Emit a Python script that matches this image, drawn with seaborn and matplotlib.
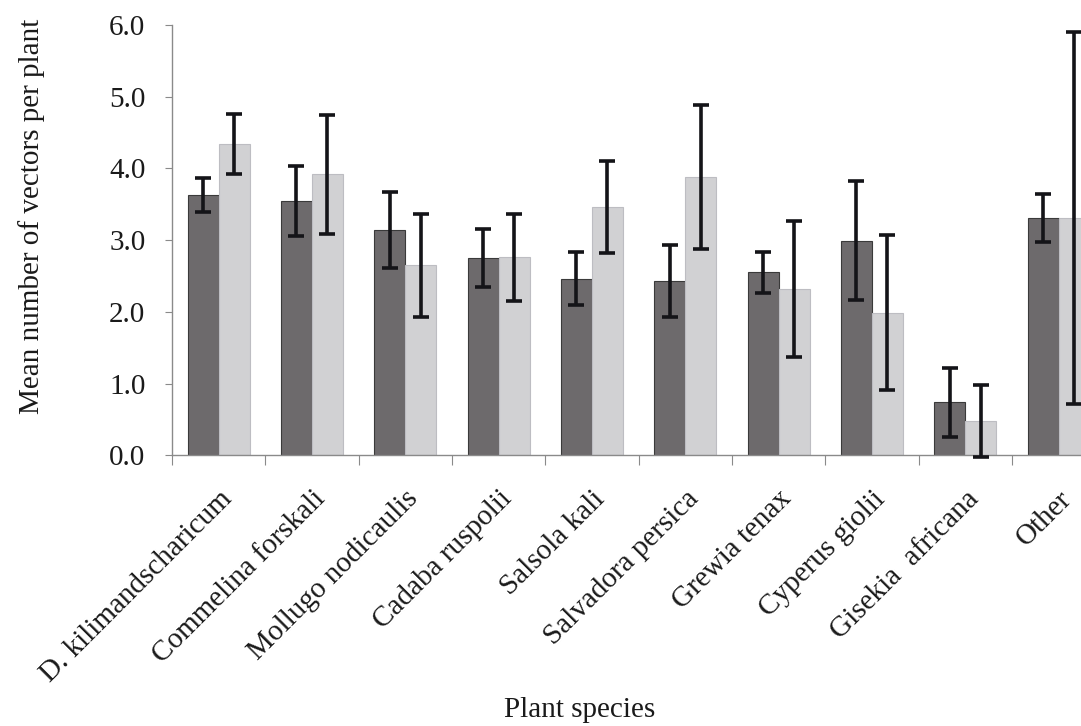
import matplotlib
matplotlib.use("Agg")
import matplotlib.pyplot as plt
import seaborn as sns
import pandas as pd
import numpy as np
from matplotlib.ticker import FixedLocator, NullFormatter

species = ["D. kilimandscharicum", "Commelina forskali", "Mollugo nodicaulis",
           "Cadaba ruspolii", "Salsola kali", "Salvadora persica", "Grewia tenax",
           "Cyperus giolii", "Gisekia  africana", "Other"]
series_names = ["Series 1", "Series 2"]
dark_vals = [3.63, 3.55, 3.14, 2.75, 2.46, 2.43, 2.55, 2.99, 0.74, 3.31]
dark_err = [0.24, 0.49, 0.53, 0.40, 0.37, 0.50, 0.29, 0.83, 0.48, 0.33]
light_vals = [4.34, 3.92, 2.65, 2.76, 3.46, 3.88, 2.32, 1.99, 0.48, 3.31]
light_err = [0.42, 0.83, 0.72, 0.61, 0.64, 1.00, 0.95, 1.08, 0.50, 2.59]
y_ticks = [0.0, 1.0, 2.0, 3.0, 4.0, 5.0, 6.0]

df = pd.DataFrame({
    "species": species * 2,
    "series": [series_names[0]] * len(species) + [series_names[1]] * len(species),
    "value": dark_vals + light_vals,
})
errs = [dark_err, light_err]

sns.set_theme(style="white")
plt.rcParams["font.family"] = ["Liberation Serif", "DejaVu Serif"]

fig = plt.figure(figsize=(10.81, 7.26), dpi=100)
ax = fig.add_axes([0.159, 0.373, 0.841, 0.627])

sns.barplot(data=df, x="species", y="value", hue="series", order=species,
            hue_order=series_names, palette=["#6d6a6c", "#d0d0d4"],
            width=0.665, errorbar=None, legend=False, ax=ax,
            edgecolor="#3a3a3a", linewidth=0.8)

for p in ax.containers[1]:
    p.set_edgecolor("#bdbdc2")

for cont, e in zip(ax.containers, errs):
    xs = [p.get_x() + p.get_width() / 2 for p in cont]
    ys = [p.get_height() for p in cont]
    ax.errorbar(xs, ys, yerr=e, fmt="none", ecolor="#141418", elinewidth=2.6,
                capsize=5.5, capthick=2.6, clip_on=False, zorder=5)

ax.set_ylim(0, 6.35)
ax.set_xlim(-0.5, 9.24)
ax.set_yticks(y_ticks)
ax.set_yticklabels([f"{t:.1f}" for t in y_ticks], fontsize=21, color="#1a1a1a")
ax.spines["left"].set_bounds(0, 6.0)
for s in ["top", "right"]:
    ax.spines[s].set_visible(False)
for s in ["left", "bottom"]:
    ax.spines[s].set_color("#8a8a8a")
    ax.spines[s].set_linewidth(1.0)

ax.tick_params(axis="y", which="major", direction="out", length=5, width=0.8,
               color="#8a8a8a", left=True, pad=14)
ax.tick_params(axis="x", which="major", length=0, pad=22)
ax.xaxis.set_minor_locator(FixedLocator(np.arange(-0.5, 9.5, 1.0)))
ax.xaxis.set_minor_formatter(NullFormatter())
ax.tick_params(axis="x", which="minor", direction="out", length=7, width=0.8,
               color="#8a8a8a", bottom=True)

ax.set_xticks(range(len(species)))
ax.set_xticklabels(species, rotation=45, ha="right", rotation_mode="anchor",
                   fontsize=21, color="#1a1a1a")

ax.set_xlabel("Plant species", fontsize=21, color="#1a1a1a")
ax.xaxis.set_label_coords(0.449, -0.56)
ax.xaxis.label.set_va("center")
ax.set_ylabel("Mean number of vectors per plant", fontsize=21, color="#1a1a1a")
ax.yaxis.set_label_coords(-0.14, 0.525)

fig.savefig("out.png", dpi=100)
